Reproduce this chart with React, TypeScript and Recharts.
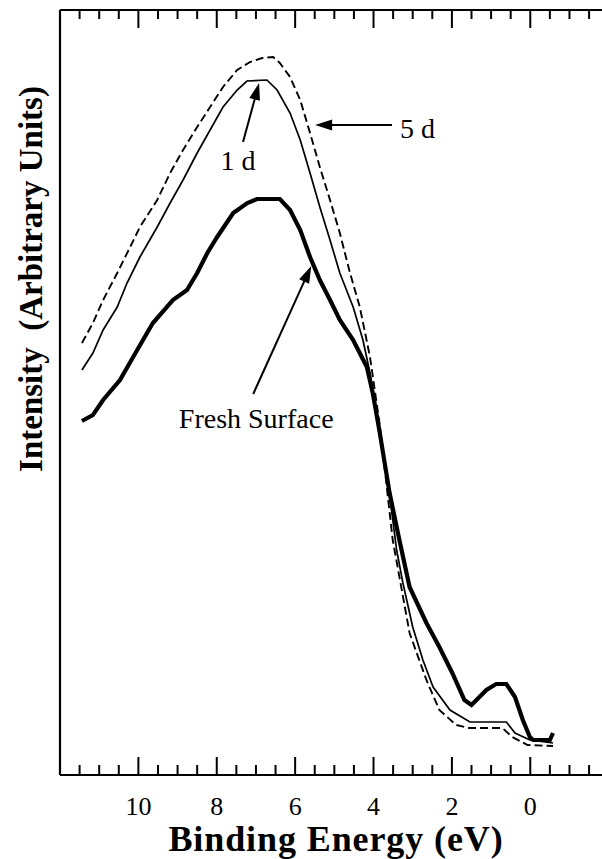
import React from 'react';
import { LineChart, Line, XAxis, YAxis, ReferenceLine } from 'recharts';

// Binding energy (eV) and intensity (arbitrary units)
const freshEnergy = [11.44, 11.16, 10.9, 10.47, 10.03, 9.63, 9.12, 8.76, 8.5, 8.24, 7.99, 7.58, 7.22, 6.97, 6.39, 6.13, 5.87, 5.62, 5.37, 5.11, 4.86, 4.52, 4.17, 4.02, 3.84, 3.59, 3.34, 3.08, 2.65, 2.32, 1.99, 1.68, 1.5, 1.12, 0.87, 0.61, 0.39, 0.19, 0.01, -0.07, -0.5, -0.58];
const freshIntensity = [354, 360, 375, 395, 425, 452, 475, 485, 502, 522, 538, 562, 572, 576, 576, 565, 545, 518, 495, 475, 455, 435, 408, 382, 342, 282, 235, 188, 152, 128, 102, 75, 70, 85, 91, 91, 78, 55, 38, 35, 35, 42];

const day1Energy = [11.44, 11.16, 10.9, 10.54, 10.29, 9.96, 9.52, 9.19, 8.86, 8.5, 8.17, 7.84, 7.48, 7.23, 6.72, 6.46, 6.13, 5.87, 5.62, 5.37, 5.11, 4.86, 4.52, 4.27, 4.09, 3.84, 3.59, 3.41, 3.25, 3.0, 2.74, 2.48, 2.05, 1.54, 0.61, 0.39, 0.01, -0.58];
const day1Intensity = [405, 422, 445, 468, 492, 518, 548, 572, 595, 622, 645, 668, 685, 694, 695, 685, 662, 635, 602, 568, 535, 502, 468, 435, 402, 345, 280, 225, 192, 148, 115, 88, 65, 53, 53, 42, 35, 32];

const day5Energy = [11.44, 11.16, 10.9, 10.54, 10.21, 9.96, 9.52, 9.19, 8.86, 8.5, 8.17, 7.84, 7.48, 7.15, 6.84, 6.56, 6.39, 6.13, 5.87, 5.62, 5.37, 5.11, 4.86, 4.6, 4.35, 4.09, 3.84, 3.51, 3.08, 2.65, 2.32, 1.89, 1.56, 0.71, 0.46, 0.07, -0.58];
const day5Intensity = [432, 452, 475, 502, 528, 548, 575, 602, 625, 648, 668, 688, 705, 713, 717, 718, 712, 698, 675, 642, 608, 575, 542, 502, 468, 418, 350, 235, 142, 95, 65, 50, 47, 47, 38, 30, 29];

const tickValues = [-1.5, -1, -0.5, 0, 0.5, 1, 1.5, 2, 2.5, 3, 3.5, 4, 4.5, 5, 5.5, 6, 6.5, 7, 7.5, 8, 8.5, 9, 9.5, 10, 10.5, 11, 11.5];
const majorTicks = [0, 2, 4, 6, 8, 10];

const toRows = (e: number[], v: number[]) => e.map((x, i) => ({ e: x, i: v[i] }));
const freshData = toRows(freshEnergy, freshIntensity);
const day1Data = toRows(day1Energy, day1Intensity);
const day5Data = toRows(day5Energy, day5Intensity);

const SERIF = '"Liberation Serif", "Times New Roman", serif';

const BottomTick = (props: any) => {
  const { x, y, payload } = props;
  const v = payload.value;
  const major = majorTicks.includes(v);
  return (
    <g>
      <line x1={x} y1={y} x2={x} y2={y - (major ? 18 : 10)} stroke="#000" strokeWidth={2} />
      {major && (
        <text x={x} y={y + 40} textAnchor="middle" fontFamily={SERIF} fontSize={26} fill="#000">
          {v}
        </text>
      )}
    </g>
  );
};

const TopTick = (props: any) => {
  const { x, y, payload } = props;
  const major = majorTicks.includes(payload.value);
  return <line x1={x} y1={y} x2={x} y2={y + (major ? 18 : 9)} stroke="#000" strokeWidth={2} />;
};

const arrow = (label: string, dx: number, dy: number, anchor: string) => (props: any) => {
  const { x1, y1, x2, y2 } = props;
  const len = Math.hypot(x2 - x1, y2 - y1) || 1;
  const ux = (x2 - x1) / len;
  const uy = (y2 - y1) / len;
  const hl = 17;
  const hw = 5.5;
  const bx = x2 - ux * hl;
  const by = y2 - uy * hl;
  const nx = -uy;
  const ny = ux;
  return (
    <g>
      <line x1={x1} y1={y1} x2={bx + ux * 2} y2={by + uy * 2} stroke="#000" strokeWidth={2} />
      <polygon
        points={`${x2},${y2} ${bx + nx * hw},${by + ny * hw} ${bx - nx * hw},${by - ny * hw}`}
        fill="#000"
      />
      <text x={x1 + dx} y={y1 + dy} textAnchor={anchor} fontFamily={SERIF} fontSize={28} fill="#000">
        {label}
      </text>
    </g>
  );
};

export default function App() {
  return (
    <div style={{ position: 'absolute', left: 0, top: 0, background: '#fff' }}>
      <LineChart width={602} height={859} margin={{ top: 9, right: 0, left: 59, bottom: 83 }}>
        <XAxis
          xAxisId="bottom"
          dataKey="e"
          type="number"
          domain={[-1.83, 12]}
          reversed
          allowDataOverflow
          ticks={tickValues}
          interval={0}
          height={1}
          tickSize={0}
          tickMargin={0}
          tickLine={false}
          tick={<BottomTick />}
          axisLine={{ stroke: '#000', strokeWidth: 2.2 }}
          label={{
            content: (p: any) => {
              const vb = p.viewBox || { x: 60, y: 775, width: 542 };
              return (
                <text
                  x={vb.x + vb.width / 2 + 5}
                  y={vb.y + 76}
                  textAnchor="middle"
                  fontFamily={SERIF}
                  fontWeight="bold"
                  fontSize={36}
                  letterSpacing={0.9}
                  fill="#000"
                >
                  Binding Energy (eV)
                </text>
              );
            },
          }}
        />
        <XAxis
          xAxisId="top"
          orientation="top"
          dataKey="e"
          type="number"
          domain={[-1.83, 12]}
          reversed
          allowDataOverflow
          ticks={tickValues}
          interval={0}
          height={1}
          tickSize={0}
          tickMargin={0}
          tickLine={false}
          tick={<TopTick />}
          axisLine={{ stroke: '#000', strokeWidth: 2.2 }}
        />
        <YAxis
          yAxisId="y"
          type="number"
          domain={[0, 765]}
          allowDataOverflow
          width={1}
          tick={false}
          tickLine={false}
          axisLine={{ stroke: '#000', strokeWidth: 2.2 }}
          label={{
            content: () => (
              <text
                x={42}
                y={279}
                transform="rotate(-90, 42, 279)"
                textAnchor="middle"
                fontFamily={SERIF}
                fontWeight="bold"
                fontSize={33}
                fill="#000"
                style={{ whiteSpace: 'pre' }}
              >
                {'Intensity  (Arbitrary Units)'}
              </text>
            ),
          }}
        />
        <Line
          data={day5Data}
          xAxisId="bottom"
          yAxisId="y"
          dataKey="i"
          type="linear"
          stroke="#000"
          strokeWidth={1.9}
          strokeDasharray="8 4"
          dot={false}
          isAnimationActive={false}
        />
        <Line
          data={day1Data}
          xAxisId="bottom"
          yAxisId="y"
          dataKey="i"
          type="linear"
          stroke="#000"
          strokeWidth={1.7}
          dot={false}
          isAnimationActive={false}
        />
        <Line
          data={freshData}
          xAxisId="bottom"
          yAxisId="y"
          dataKey="i"
          type="linear"
          stroke="#000"
          strokeWidth={4.2}
          dot={false}
          isAnimationActive={false}
        />
        <ReferenceLine
          xAxisId="bottom"
          yAxisId="y"
          segment={[{ x: 7.33, y: 633 }, { x: 6.92, y: 692 }]}
          shape={arrow('1 d', -5, 28, 'middle')}
        />
        <ReferenceLine
          xAxisId="bottom"
          yAxisId="y"
          segment={[{ x: 3.53, y: 650 }, { x: 5.49, y: 650 }]}
          shape={arrow('5 d', 8, 13, 'start')}
        />
        <ReferenceLine
          xAxisId="bottom"
          yAxisId="y"
          segment={[{ x: 7.07, y: 381 }, { x: 5.59, y: 509 }]}
          shape={arrow('Fresh Surface', 3, 34, 'middle')}
        />
      </LineChart>
    </div>
  );
}
